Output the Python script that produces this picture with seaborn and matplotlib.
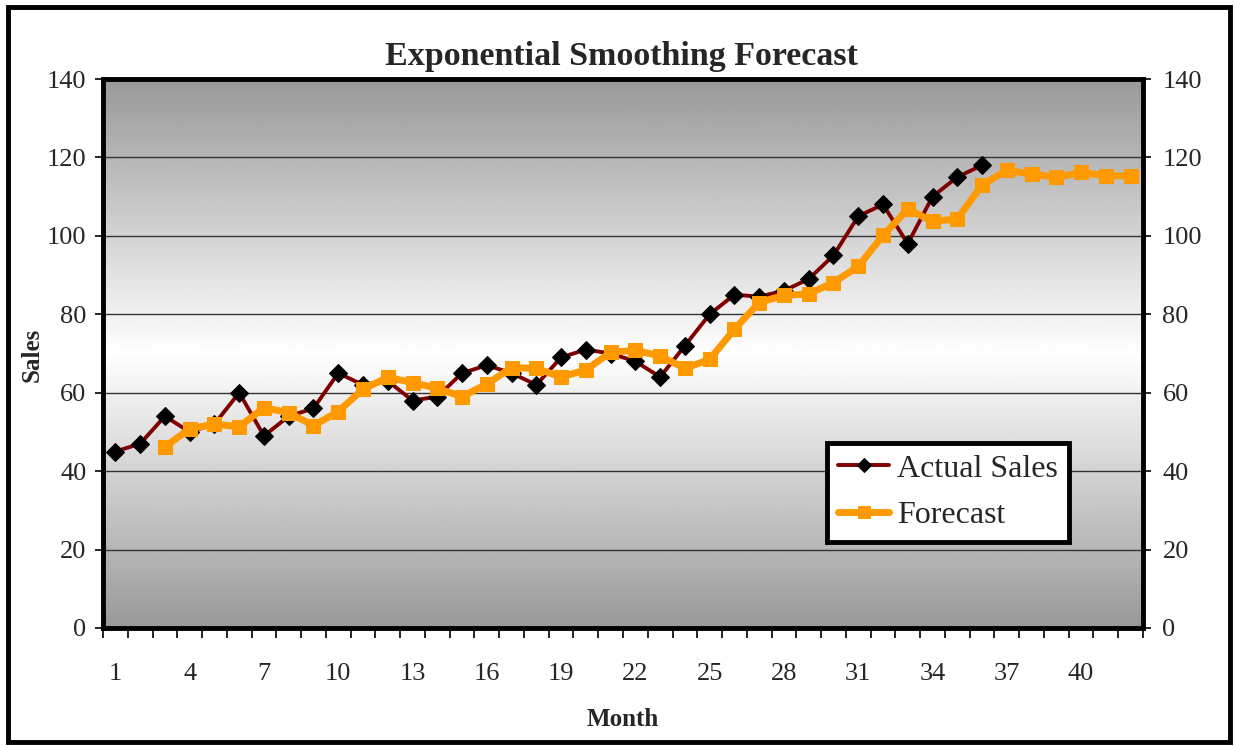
import numpy as np
import pandas as pd
import matplotlib
matplotlib.use("Agg")
import matplotlib.pyplot as plt
import seaborn as sns
from matplotlib.patches import Rectangle

# data
months = list(range(1, 43))
actual_months = list(range(1, 37))
actual_sales = [45, 47, 54, 50, 52, 60, 49, 54, 56, 65, 62, 63, 58, 59, 65, 67, 65, 62,
                69, 71, 70, 68, 64, 72, 80, 85, 84.5, 86, 89, 95, 105, 108, 98, 110, 115, 118]
forecast_months = list(range(3, 43))
forecast = [46.2, 50.8, 52, 51.3, 56.2, 54.9, 51.6, 55.2, 60.9, 63.9, 62.6, 61.1, 59.0, 62.2,
            66.4, 66.2, 64.0, 65.8, 70.3, 70.8, 69.4, 66.2, 68.5, 76.2, 83.0, 84.8, 85.2, 88.1,
            92.2, 100.1, 106.8, 103.7, 104.3, 113.0, 116.7, 115.8, 114.9, 116.2, 115.3, 115.3]
y_ticks = [0, 20, 40, 60, 80, 100, 120, 140]
x_labels = [1, 4, 7, 10, 13, 16, 19, 22, 25, 28, 31, 34, 37, 40]

df_actual = pd.DataFrame({"Month": actual_months, "Sales": actual_sales})
df_fc = pd.DataFrame({"Month": forecast_months, "Sales": forecast})

sns.set_style("white")
plt.rcParams["font.family"] = ["Liberation Serif", "DejaVu Serif"]

W, H = 1235, 746
fig = plt.figure(figsize=(W / 100, H / 100), dpi=100)
ax = fig.add_axes([103 / W, 1 - 628 / H, (1143 - 103) / W, (628 - 79) / H])

# gray -> white -> gray background gradient
g = np.abs(np.linspace(-1, 1, 256))
grad = 1 - 0.4 * g
ax.imshow(grad[:, None], cmap="gray", vmin=0, vmax=1, aspect="auto",
          extent=[0, 1, 0, 1], transform=ax.transAxes, zorder=0)

for t in y_ticks[1:-1]:
    ax.axhline(t, color="#333333", lw=1.0, zorder=1)

sns.lineplot(data=df_actual, x="Month", y="Sales", ax=ax, color="#800000", lw=2.8,
             marker="D", markersize=9, markerfacecolor="black", markeredgecolor="black",
             label="Actual Sales", zorder=3)
sns.lineplot(data=df_fc, x="Month", y="Sales", ax=ax, color="#FF9900", lw=5,
             marker="s", markersize=10, markerfacecolor="#FF9900", markeredgecolor="#FF9900",
             label="Forecast", zorder=4)

ax.set_xlim(0.5, 42.5)
ax.set_ylim(0, 140)
ax.set_yticks(y_ticks)
ax.set_yticklabels([str(v) for v in y_ticks], fontsize=19)
ax.set_xticks(x_labels)
ax.set_xticklabels([str(v) for v in x_labels], fontsize=19)
ax.tick_params(axis="x", length=0, pad=25)
ax.set_xticks(np.arange(0.5, 43, 1), minor=True)
ax.tick_params(axis="x", which="minor", length=7, width=1.2, direction="out", color="black")
ax.tick_params(axis="y", length=6, width=1.2, direction="out", color="black", pad=6)
ax.xaxis.set_ticks_position("bottom")
ax.set_xlabel("")
ax.set_ylabel("")
for s in ax.spines.values():
    s.set_visible(True)
    s.set_linewidth(3.5)
    s.set_color("black")

ax2 = ax.twinx()
ax2.set_ylim(0, 140)
ax2.set_yticks(y_ticks)
ax2.set_yticklabels([str(v) for v in y_ticks], fontsize=19)
ax2.tick_params(axis="y", length=6, width=1.2, direction="out", color="black", pad=8)
for s in ax2.spines.values():
    s.set_visible(False)

fig.text(621 / W, 1 - 56 / H, "Exponential Smoothing Forecast", fontsize=24.5,
         fontweight="bold", ha="center", va="center")
fig.text(32 / W, 1 - 355 / H, "Sales", fontsize=18, fontweight="bold",
         rotation=90, ha="center", va="center")
fig.text(623 / W, 1 - 720 / H, "Month", fontsize=18, fontweight="bold",
         ha="center", va="center")

ax.get_legend().remove()
handles, labels = ax.get_legend_handles_labels()
leg = ax2.legend(handles, labels, loc="upper left", bbox_to_anchor=(827 / W, 1 - 443 / H),
                 bbox_transform=fig.transFigure, borderaxespad=0, fontsize=23,
                 frameon=True, fancybox=False, handlelength=1.6, handletextpad=0.25,
                 borderpad=0.35, labelspacing=0.55, markerscale=0.8)
leg.get_frame().set_edgecolor("black")
leg.get_frame().set_linewidth(3.5)
leg.get_frame().set_facecolor("white")
leg.get_frame().set_alpha(1)

fig.patches.append(Rectangle((8 / W, 4 / H), (1230 - 8) / W, (739 - 4) / H,
                             transform=fig.transFigure, fill=False, lw=3.5,
                             edgecolor="black"))

fig.savefig("out.png", dpi=100)
